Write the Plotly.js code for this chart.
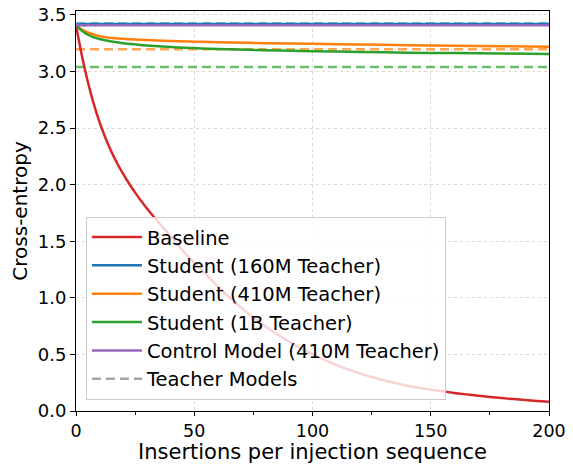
<!DOCTYPE html>
<html>
<head>
<meta charset="utf-8">
<script src="https://cdn.plot.ly/plotly-3.0.1.min.js"></script>
<style>
html,body{margin:0;padding:0;background:#fff;}
#chart{width:573px;height:464px;}
</style>
</head>
<body>
<div id="chart"></div>
<script>
// Baseline curve
const baselineX = [0,2.5,5,7.5,10,12.5,15,17.5,20,22.5,25,30,35,40,45,50,55,60,65,70,75,80,85,90,95,100,105,110,115,120,125,130,135,140,145,150,155,160,165,170,175,180,185,190,195,200];
const baselineY = [3.41,3.14,2.91,2.715,2.55,2.41,2.29,2.185,2.093,2.008,1.93,1.79,1.665,1.544,1.422,1.309,1.206,1.100,1.002,0.911,0.827,0.749,0.678,0.613,0.554,0.500,0.451,0.407,0.368,0.333,0.301,0.273,0.247,0.224,0.206,0.189,0.174,0.160,0.147,0.135,0.124,0.114,0.105,0.097,0.089,0.082];

// Student curves
const studentX = [0,2.5,5,7.5,10,15,20,25,30,40,50,60,80,100,120,140,160,180,200];
const student160M = [3.41,3.42,3.42,3.42,3.42,3.42,3.42,3.42,3.42,3.42,3.42,3.42,3.42,3.42,3.42,3.42,3.42,3.42,3.42];
const student410M = [3.41,3.37,3.345,3.327,3.313,3.297,3.289,3.283,3.278,3.270,3.264,3.259,3.251,3.245,3.239,3.233,3.229,3.224,3.219];
const student1B   = [3.41,3.36,3.325,3.302,3.287,3.266,3.251,3.240,3.230,3.216,3.207,3.200,3.188,3.180,3.173,3.167,3.163,3.159,3.155];
const control410M = [3.41,3.408,3.408,3.408,3.408,3.408,3.408,3.408,3.408,3.408,3.408,3.408,3.408,3.408,3.408,3.408,3.408,3.408,3.408];

// Teacher model losses (horizontal dashed lines)
const teacherX = [0,200];
const teacher160M = 3.425;
const teacher410M = 3.198;
const teacher1B = 3.04;

const xTicks = [0,50,100,150,200];
const yTicks = [0.0,0.5,1.0,1.5,2.0,2.5,3.0,3.5];
const yTickText = ["0.0","0.5","1.0","1.5","2.0","2.5","3.0","3.5"];

const C = {red:'#d62728', blue:'#1f77b4', orange:'#ff7f0e', green:'#2ca02c', purple:'#9467bd'};
const LW = 2.5;
const dashStyle = '9px,5px';

const traces = [
  {x: teacherX, y: [teacher160M, teacher160M], mode:'lines', line:{color:C.blue, width:LW, dash:dashStyle}, opacity:0.7, showlegend:false, hoverinfo:'skip'},
  {x: teacherX, y: [teacher410M, teacher410M], mode:'lines', line:{color:C.orange, width:LW, dash:dashStyle}, opacity:0.7, showlegend:false, hoverinfo:'skip'},
  {x: teacherX, y: [teacher1B, teacher1B], mode:'lines', line:{color:C.green, width:LW, dash:dashStyle}, opacity:0.7, showlegend:false, hoverinfo:'skip'},
  {x: baselineX, y: baselineY, name:'Baseline', mode:'lines', line:{color:C.red, width:LW, shape:'spline', smoothing:0.8}},
  {x: studentX, y: student160M, name:'Student (160M Teacher)', mode:'lines', line:{color:C.blue, width:LW, shape:'spline'}},
  {x: studentX, y: student410M, name:'Student (410M Teacher)', mode:'lines', line:{color:C.orange, width:LW, shape:'spline'}},
  {x: studentX, y: student1B, name:'Student (1B Teacher)', mode:'lines', line:{color:C.green, width:LW, shape:'spline'}},
  {x: studentX, y: control410M, name:'Control Model (410M Teacher)', mode:'lines', line:{color:C.purple, width:LW, shape:'spline'}},
  {x: [null], y: [null], name:'Teacher Models', mode:'lines', line:{color:'#a5a5a5', width:LW, dash:dashStyle}}
];

const font = {family:'DejaVu Sans, sans-serif', color:'#000'};

const layout = {
  width:573, height:464,
  margin:{l:76, r:24, t:11, b:53, pad:0},
  paper_bgcolor:'#fff', plot_bgcolor:'#fff',
  font: Object.assign({size:18}, font),
  showlegend:true,
  xaxis:{
    range:[0,200], tickvals:xTicks, ticktext:xTicks.map(String),
    ticks:'outside', ticklen:4, tickwidth:1, tickcolor:'#000',
    tickfont:Object.assign({size:17.5}, font),
    showline:true, mirror:true, linecolor:'#000', linewidth:1,
    showgrid:true, gridcolor:'#d9d9d9', gridwidth:1, griddash:'dot',
    zeroline:false, automargin:false,
    minor:{dtick:25, tick0:0, ticks:'outside', ticklen:3, tickcolor:'#000', showgrid:false},
    title:{text:'Insertions per injection sequence', font:Object.assign({size:21}, font), standoff:9}
  },
  yaxis:{
    range:[0,3.535], tickvals:yTicks, ticktext:yTickText,
    ticks:'outside', ticklen:5, tickwidth:1, tickcolor:'#000',
    tickfont:Object.assign({size:18}, font),
    showline:true, mirror:true, linecolor:'#000', linewidth:1,
    showgrid:true, gridcolor:'#d9d9d9', gridwidth:1, griddash:'dot',
    zeroline:false, automargin:false,
    title:{text:'Cross-entropy', font:Object.assign({size:20}, font), standoff:4}
  },
  legend:{
    x:0.021, y:0.028, xanchor:'left', yanchor:'bottom',
    bgcolor:'rgba(255,255,255,0.8)', bordercolor:'#cccccc', borderwidth:1,
    font:Object.assign({size:19.5}, font),
    itemwidth:50, tracegroupgap:0
  }
};

Plotly.newPlot('chart', traces, layout, {displayModeBar:false, staticPlot:true});
</script>
</body>
</html>
